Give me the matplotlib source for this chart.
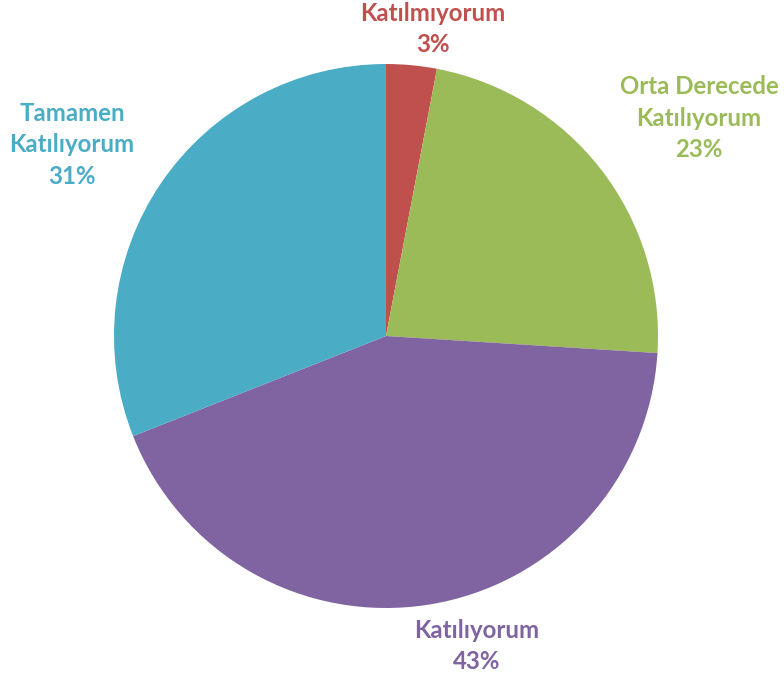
import matplotlib
matplotlib.use("Agg")
import matplotlib.pyplot as plt

categories = ["Katılmıyorum", "Orta Derecede\nKatılıyorum", "Katılıyorum", "Tamamen\nKatılıyorum"]
values = [3, 23, 43, 31]
colors = ["#C0504D", "#9BBB59", "#8064A2", "#4BACC6"]
label_pos = [(433, 29), (699, 118), (477, 646), (72, 145)]

W, H = 784, 677
fig = plt.figure(figsize=(W / 100, H / 100), dpi=100)
ax = fig.add_axes([0, 0, 1, 1])

cx, cy, r = 386, H - 336, 272
ax.pie(values, colors=colors, startangle=90, counterclock=False,
       center=(cx, cy), radius=r, frame=True,
       wedgeprops=dict(linewidth=0))
ax.set_xlim(0, W)
ax.set_ylim(0, H)
ax.set_aspect("equal")
ax.axis("off")

for cat, v, c, (x, y) in zip(categories, values, colors, label_pos):
    ax.text(x, H - y, f"{cat}\n{v}%", ha="center", va="center", color=c,
            fontsize=17.3, fontweight="bold", family="Lato", linespacing=1.45)

fig.savefig("out.png", dpi=100)
